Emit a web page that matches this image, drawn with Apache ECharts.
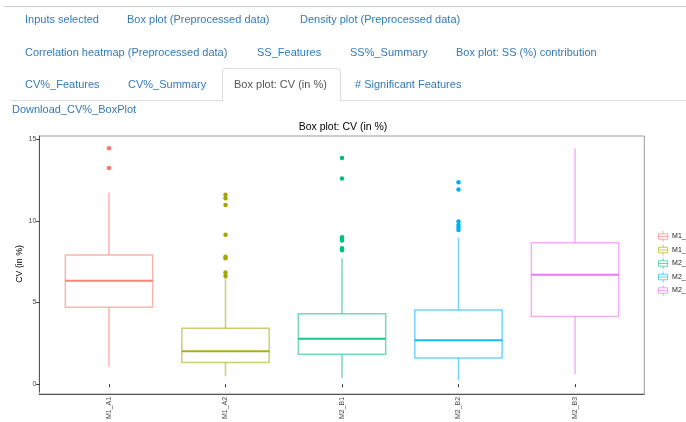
<!DOCTYPE html>
<html>
<head>
<meta charset="utf-8">
<script src="https://cdn.jsdelivr.net/npm/echarts@6/dist/echarts.min.js"></script>
<style>
  html, body { margin:0; padding:0; background:#fff; }
  body { width:686px; height:422px; position:relative; overflow:hidden; font-family:"Liberation Sans", Arial, sans-serif; }
  #chart { position:absolute; left:0; top:0; width:686px; height:422px; }
  .ui { position:absolute; left:0; top:0; width:686px; height:422px; pointer-events:none; z-index:2; }
  .t { position:absolute; font-size:11px; line-height:13px; color:#337ab7; white-space:nowrap; }
  .act { color:#555; }
  .hline { position:absolute; height:0; border-top:1px solid #ddd; }
  .tab { position:absolute; border:1px solid #ddd; border-bottom:1px solid #fff; border-radius:4px 4px 0 0; background:#fff; }
</style>
</head>
<body>
<div id="chart"></div>
<div class="ui">
  <div class="hline" style="left:4px; top:6px; width:682px; border-top-color:#ccc;"></div>
  <div class="hline" style="left:11px; top:100px; width:675px;"></div>
  <div class="tab" style="left:222px; top:68px; width:117px; height:32px;"></div>

  <span class="t" style="left:25px; top:13px;">Inputs selected</span>
  <span class="t" style="left:127px; top:13px;">Box plot (Preprocessed data)</span>
  <span class="t" style="left:300px; top:13px;">Density plot (Preprocessed data)</span>

  <span class="t" style="left:25px; top:46px;">Correlation heatmap (Preprocessed data)</span>
  <span class="t" style="left:257px; top:46px;">SS_Features</span>
  <span class="t" style="left:350px; top:46px;">SS%_Summary</span>
  <span class="t" style="left:456px; top:46px;">Box plot: SS (%) contribution</span>

  <span class="t" style="left:25px; top:78px;">CV%_Features</span>
  <span class="t" style="left:128px; top:78px;">CV%_Summary</span>
  <span class="t act" style="left:234px; top:78px;">Box plot: CV (in %)</span>
  <span class="t" style="left:355px; top:78px;"># Significant Features</span>

  <span class="t" style="left:12px; top:103px;">Download_CV%_BoxPlot</span>
</div>
<script>
// ---------------- data ----------------
var categories = ['M1_A1', 'M1_A2', 'M2_B1', 'M2_B2', 'M2_B3'];
var lowerWhisker = [1.07, 0.48, 0.38, 0.24, 0.63];
var q1Values     = [4.71, 1.33, 1.84, 1.60, 4.15];
var medianValues = [6.33, 2.02, 2.79, 2.69, 6.70];
var q3Values     = [7.91, 3.42, 4.31, 4.55, 8.66];
var upperWhisker = [11.72, 6.50, 7.71, 8.98, 14.45];
var outliersM1_A1 = [14.45, 13.24];
var outliersM1_A2 = [11.60, 11.38, 10.97, 9.15, 7.81, 7.71, 6.84, 6.62];
var outliersM2_B1 = [13.86, 12.59, 9.00, 8.90, 8.80, 8.33, 8.20];
var outliersM2_B2 = [12.36, 11.92, 9.96, 9.75, 9.60, 9.45];
var outliersM2_B3 = [];
var yTickValues = [0, 5, 10, 15];
var chartTitle = 'Box plot: CV (in %)';
var yAxisTitle = 'CV (in %)';
// ---------------------------------------

var colors = ['#F8766D', '#A3A500', '#00BF7D', '#00B0F6', '#E76BF3'];
var outlierLists = [outliersM1_A1, outliersM1_A2, outliersM2_B1, outliersM2_B2, outliersM2_B3];

function rgba(hex, a) {
  var n = parseInt(hex.slice(1), 16);
  return 'rgba(' + ((n >> 16) & 255) + ',' + ((n >> 8) & 255) + ',' + (n & 255) + ',' + a + ')';
}

var boxData = categories.map(function (c, i) {
  return [i, lowerWhisker[i], q1Values[i], medianValues[i], q3Values[i], upperWhisker[i]];
});

function renderBox(params, api) {
  var i = api.value(0);
  var col = colors[i];
  var bw = api.size([1, 0])[0] * 0.75;
  var pLow = api.coord([i, api.value(1)]);
  var pQ1 = api.coord([i, api.value(2)]);
  var pMed = api.coord([i, api.value(3)]);
  var pQ3 = api.coord([i, api.value(4)]);
  var pHigh = api.coord([i, api.value(5)]);
  var x = pMed[0];
  var light = { stroke: rgba(col, 0.55), lineWidth: 1.5, fill: 'none' };
  return {
    type: 'group',
    children: [
      { type: 'line', shape: { x1: x, y1: pQ1[1], x2: x, y2: pLow[1] }, style: light },
      { type: 'line', shape: { x1: x, y1: pQ3[1], x2: x, y2: pHigh[1] }, style: light },
      { type: 'rect', shape: { x: x - bw / 2, y: pQ3[1], width: bw, height: pQ1[1] - pQ3[1] }, style: light },
      { type: 'line', shape: { x1: x - bw / 2, y1: pMed[1], x2: x + bw / 2, y2: pMed[1] },
        style: { stroke: rgba(col, 0.9), lineWidth: 2 } }
    ]
  };
}

var series = [{
  type: 'custom',
  xAxisIndex: 0, yAxisIndex: 0,
  renderItem: renderBox,
  encode: { x: 0, y: [1, 2, 3, 4, 5] },
  data: boxData,
  silent: true,
  z: 2
}];

categories.forEach(function (c, i) {
  series.push({
    type: 'scatter',
    name: c,
    xAxisIndex: 0, yAxisIndex: 0,
    symbol: 'circle',
    symbolSize: 4.5,
    itemStyle: { color: colors[i], opacity: 1 },
    data: outlierLists[i].map(function (v) { return [i, v]; }),
    z: 3
  });
});

var legendIcon = 'path://M0,3 L10,3 L10,9 L0,9 Z M5,0 L5,3 M5,9 L5,12 M0,6 L10,6';

var option = {
  animation: false,
  backgroundColor: 'transparent',
  title: {
    text: chartTitle,
    left: 'center',
    top: 117,
    textStyle: { fontFamily: 'Liberation Sans', fontSize: 10.5, fontWeight: 'normal', color: '#000' }
  },
  legend: {
    orient: 'vertical',
    left: 658,
    top: 230.5,
    padding: 0,
    itemWidth: 10,
    itemHeight: 11,
    itemGap: 1.5,
    selectedMode: false,
    textStyle: { fontFamily: 'Liberation Sans', fontSize: 7, lineHeight: 9, color: '#1a1a1a', padding: [0, 0, 0, -1] },
    data: categories.map(function (c, i) {
      return { name: c, icon: legendIcon,
        itemStyle: { color: 'rgba(255,255,255,0)', borderColor: rgba(colors[i], 0.6), borderWidth: 1 } };
    })
  },
  grid: [
    { left: 50.75, right: 52.75, top: 136, bottom: 28, containLabel: false },
    { left: 39.3, right: 41.7, top: 136, bottom: 28, show: true, borderColor: '#999', borderWidth: 1, backgroundColor: 'transparent' }
  ],
  xAxis: [
    {
      type: 'category', gridIndex: 0, data: categories, boundaryGap: true,
      axisLine: { show: false },
      axisTick: { show: true, alignWithLabel: true, length: 3, lineStyle: { color: '#333' } },
      axisLabel: { rotate: 90, fontSize: 7, color: '#4d4d4d', margin: 5, fontFamily: 'Liberation Sans' },
      splitLine: { show: false }
    },
    {
      type: 'value', gridIndex: 1, min: 0, max: 1,
      axisLine: { show: true, onZero: false, lineStyle: { color: '#555', width: 1 } },
      axisTick: { show: false }, axisLabel: { show: false }, splitLine: { show: false }
    }
  ],
  yAxis: [
    {
      type: 'value', gridIndex: 0, min: -0.468, max: 15.2, offset: 11.45,
      name: yAxisTitle, nameLocation: 'middle', nameGap: 15, nameMoveOverlap: false,
      nameTextStyle: { fontFamily: 'Liberation Sans', fontSize: 8.8, color: '#000' },
      axisLine: { show: true, lineStyle: { color: '#555', width: 1 } },
      axisTick: { show: true, length: 3, customValues: yTickValues, lineStyle: { color: '#333' } },
      axisLabel: { fontSize: 7, color: '#4d4d4d', margin: 3, customValues: yTickValues, fontFamily: 'Liberation Sans' },
      splitLine: { show: false }
    },
    {
      type: 'value', gridIndex: 1, min: 0, max: 1, show: false
    }
  ],
  series: series
};

var chart = echarts.init(document.getElementById('chart'), null, { renderer: 'canvas' });
chart.setOption(option);
</script>
</body>
</html>
